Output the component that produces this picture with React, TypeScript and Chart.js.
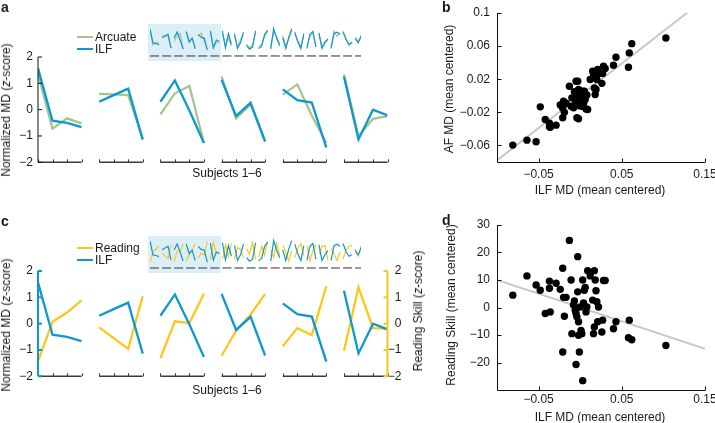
import React, { useEffect, useRef } from "react";
import { Chart, registerables } from "chart.js";
Chart.register(...registerables);

const FONT = "'Liberation Sans', Arial, Helvetica, sans-serif";
const INK = "#1a1a1a";
const ILF_COLOR = "#0e98d0";
const ARC_COLOR = "#a7c58b";
const READ_COLOR = "#ffc617";

// ---------- Panels a / c : six example subjects (z-scores, 4 points each) ----------
const subjectLabels = ["1", "2", "3", "4", "5", "6"];
const zTicks = [-2, -1, 0, 1, 2];
const ilfZ = [
  [1.57, -0.42, -0.5, -0.66],
  [0.3, 0.55, 0.8, -1.14],
  [0.3, 1.11, -0.03, -1.27],
  [1.13, -0.24, 0.26, -1.21],
  [0.77, 0.36, 0.27, -1.44],
  [1.25, -1.13, 0.0, -0.22],
];
const arcZ = [
  [1.35, -0.72, -0.33, -0.52],
  [0.6, 0.58, 0.55, -1.1],
  [-0.18, 0.62, 0.9, -1.27],
  [1.25, -0.33, 0.2, -1.2],
  [0.57, 0.96, -0.22, -1.27],
  [1.33, -1.0, -0.35, -0.25],
];
const readZ = [
  [-1.43, 0.07, 0.42, 0.88],
  [-0.14, -0.55, -0.96, 1.04],
  [-1.31, 0.09, 0.02, 1.14],
  [-1.22, -0.27, 0.35, 1.13],
  [-0.86, -0.17, -0.44, 1.42],
  [-1.03, 1.38, -0.17, -0.2],
];
// thumbnails of further subjects (strip above the panels)
const extraIlfZ = [
  [1.3, -1.1, 0.9, -0.6],
  [0.9, -1.2, -0.4, 1.1],
  [-0.8, -1.3, -1.0, 1.3],
  [-1.2, -0.9, 0.8, 1.4],
  [-1.3, 1.6, 0.2, -0.8],
  [0.3, -1.2, 0.4, 1.6],
  [1.1, -0.3, -1.2, 0.9],
  [-1.2, 0.8, 1.2, -1.0],
  [1.0, -1.2, -0.4, 0.2],
  [-1.2, 0.9, 1.1, 0.8],
  [1.2, 0.0, -0.6, -0.4],
  [0.2, -0.4, 0.6, 0.0],
];
const extraArcZ = [
  [0.9, -0.8, 0.2, -0.9],
  [0.5, -0.9, 0.0, 0.8],
  [-0.6, -1.1, -0.7, 1.0],
  [-1.0, -0.6, 0.5, 1.2],
  [-1.0, 1.2, 0.5, -0.6],
  [0.6, -0.9, 0.1, 1.3],
  [0.8, -0.1, -0.9, 0.6],
  [-0.9, 0.5, 1.0, -0.8],
  [0.7, -0.9, -0.2, 0.0],
  [-1.0, 1.3, 0.5, 1.0],
  [1.0, 0.2, -0.8, -0.2],
  [0.4, -0.2, 0.3, 0.1],
];
const extraReadZ = [
  [-1.0, 1.0, -0.6, 1.2],
  [-1.0, 0.6, 0.4, -0.8],
  [0.5, -0.3, 1.3, -1.0],
  [-0.8, 0.8, -0.5, 1.5],
  [0.3, -0.8, 1.2, -0.5],
  [1.0, 0.0, -1.3, 0.2],
  [-0.8, 0.5, 1.2, -0.5],
  [0.8, -1.2, 0.2, 1.0],
  [-0.3, 0.8, 0.9, -1.2],
  [0.5, -0.3, -1.2, 0.0],
  [-1.0, 0.3, 0.8, 0.9],
  [0.4, -0.6, 0.8, 0.2],
];

// ---------- Panels b / d : all subjects (mean centered) ----------
const ilfMd = [
  -0.081, -0.064, -0.053, -0.048, -0.042, -0.037, -0.037, -0.036, -0.029, -0.024,
  -0.021, -0.021, -0.02, -0.019, -0.017, -0.013, -0.011, -0.01, -0.008, -0.007,
  -0.006, -0.005, -0.004, -0.005, -0.003, -0.003, -0.002, -0.002, -0.001, 0.0,
  0.001, 0.002, 0.003, 0.003, 0.004, 0.005, 0.006, 0.007, 0.008, 0.009,
  0.012, 0.015, 0.016, 0.017, 0.017, 0.018, 0.019, 0.02, 0.021, 0.022,
  0.026, 0.027, 0.028, 0.03, 0.04, 0.043, 0.059, 0.058, 0.062, 0.103,
];
const afMd = [
  -0.0596, -0.0536, -0.0556, -0.0134, -0.0286, -0.0375, -0.033, -0.038, -0.0355, -0.011,
  -0.015, -0.0266, -0.0065, -0.02, -0.009, 0.0116, -0.0126, -0.0025, -0.0146, 0.005,
  -0.004, 0.0176, -0.0266, -0.008, 0.0176, 0.002, -0.0278, 0.0075, -0.012, -0.0005,
  -0.0065, -0.0126, -0.003, 0.0055, -0.009, 0.0055, -0.0045, -0.016, 0.001, -0.0166,
  0.0196, 0.0297, 0.0256, 0.0216, 0.0095, 0.0015, 0.0075, 0.0196, 0.0317, 0.0268,
  0.015, 0.0268, 0.0357, 0.033, 0.0369, 0.0465, 0.0518, 0.0345, 0.063, 0.0698,
];
const readSkill = [
  4.5, 11.5, 8.2, 6.3, -2.2, 9.6, 7.0, -1.6, 8.8, 6.6,
  14.3, -16.2, 3.7, -3.2, 3.7, 24.4, 10, -9.5, 0.9, 2.4,
  -1, -2.2, -3.4, -20.7, 18.5, 5.7, -5.2, -10.1, -16.2, 0.2,
  -8.3, -9.5, -26.6, 10, 1.7, 6.3, 7.3, -1.6, 0.2, 13.4,
  11.5, 2.7, -9.5, -7.1, 13.4, 10, 6.1, 2.1, -5.2, 0.2,
  -8.9, -4.6, 9.8, 9.8, -7.7, -5.2, -4.6, -11, -11.7, -13.8,
];
const ilfTicks = [-0.05, 0.05, 0.15];
const afTicks = [-0.06, -0.02, 0.02, 0.06, 0.1];
const readTicks = [-20, -10, 0, 10, 20, 30];
const fitAf = { slope: 0.78, intercept: 0.0 };
const fitRead = { slope: -100, intercept: 0.0 };

// ---------- layout constants ----------
const SUBJ_STEP = 4.22; // x units between subject sub-plots (3 units wide each)
const THUMB_STEP = 4.023;

const fmt = (v: number) => (v < 0 ? "\u2212" : "") + String(Math.abs(Math.round(v * 1000) / 1000));

function seriesData(rows: number[][], step: number) {
  const out: { x: number; y: number | null }[] = [];
  rows.forEach((r, s) => {
    r.forEach((v, j) => out.push({ x: s * step + j, y: v }));
    out.push({ x: s * step + 3.5, y: null });
  });
  return out;
}

const baseOpts = {
  responsive: false,
  animation: false,
  devicePixelRatio: 1,
  events: [],
  plugins: { legend: { display: false }, tooltip: { enabled: false } },
};

function subjectAxesPlugin(leftColor: string, leftW: number, rightColor: string | null, rightW: number) {
  return {
    id: "subjectAxes",
    afterDraw(chart: any) {
      const { ctx, chartArea: ca, scales } = chart;
      const xs = scales.x;
      const ys = scales.y;
      const yb = ys.getPixelForValue(-2);
      const yt = ys.getPixelForValue(2);
      ctx.save();
      ctx.lineCap = "butt";
      ctx.strokeStyle = "#3a3a3a";
      for (let s = 0; s < subjectLabels.length; s++) {
        const x0 = xs.getPixelForValue(s * SUBJ_STEP);
        const x1 = xs.getPixelForValue(s * SUBJ_STEP + 3);
        ctx.lineWidth = 1.6;
        ctx.beginPath();
        ctx.moveTo(x0, yb);
        ctx.lineTo(x1, yb);
        ctx.stroke();
        ctx.lineWidth = 1;
        for (let j = 0; j < 4; j++) {
          const xp = Math.round(xs.getPixelForValue(s * SUBJ_STEP + j)) + 0.5;
          ctx.beginPath();
          ctx.moveTo(xp, yb);
          ctx.lineTo(xp, yb - 3);
          ctx.stroke();
        }
      }
      ctx.strokeStyle = leftColor;
      ctx.lineWidth = leftW;
      ctx.beginPath();
      ctx.moveTo(ca.left, yt);
      ctx.lineTo(ca.left, yb);
      ctx.stroke();
      for (const v of zTicks) {
        const py = ys.getPixelForValue(v);
        ctx.beginPath();
        ctx.moveTo(ca.left, py);
        ctx.lineTo(ca.left + 4, py);
        ctx.stroke();
      }
      if (rightColor) {
        ctx.strokeStyle = rightColor;
        ctx.lineWidth = rightW;
        ctx.beginPath();
        ctx.moveTo(ca.right, yt);
        ctx.lineTo(ca.right, yb);
        ctx.stroke();
        for (const v of zTicks) {
          const py = ys.getPixelForValue(v);
          ctx.beginPath();
          ctx.moveTo(ca.right, py);
          ctx.lineTo(ca.right - 4, py);
          ctx.stroke();
        }
      }
      ctx.restore();
    },
  };
}

const tickFont = { family: FONT, size: 12 };

function subjectConfig(second: number[][], secondColor: string, withRight: boolean, canvasW: number, canvasH: number) {
  const datasets = [
    { data: seriesData(ilfZ, SUBJ_STEP), borderColor: ILF_COLOR, order: 0 },
    { data: seriesData(second, SUBJ_STEP), borderColor: secondColor, order: 1 },
  ].map((d) => ({ ...d, showLine: true, pointRadius: 0, borderWidth: 2.3, spanGaps: false, fill: false, tension: 0 }));
  const scales: any = {
    x: { type: "linear", display: false, min: 0, max: 5 * SUBJ_STEP + 3 },
    y: {
      type: "linear",
      min: -2,
      max: 2,
      ticks: { stepSize: 1, padding: 5, color: INK, font: tickFont, callback: (v: number) => fmt(v) },
      grid: { display: false, drawTicks: false },
      border: { display: false },
      afterFit(s: any) {
        s.width = 38;
        s.paddingTop = 0;
        s.paddingBottom = 0;
      },
    },
  };
  if (withRight) {
    scales.y2 = {
      type: "linear",
      position: "right",
      min: -2,
      max: 2,
      ticks: { stepSize: 1, padding: 2, crossAlign: "far", color: INK, font: tickFont, callback: (v: number) => fmt(v) },
      grid: { display: false, drawTicks: false },
      border: { display: false },
      afterFit(s: any) {
        s.width = 14;
        s.paddingTop = 0;
        s.paddingBottom = 0;
      },
    };
  }
  return {
    type: "scatter",
    data: { datasets },
    options: {
      ...baseOpts,
      layout: { padding: { left: 0, top: 57, right: canvasW - 387.5 - (withRight ? 14 : 0), bottom: canvasH - 162.3 } },
      scales,
    },
    plugins: [subjectAxesPlugin(withRight ? ILF_COLOR : "#111", withRight ? 2 : 1, withRight ? READ_COLOR : null, 2)],
  };
}

const THUMB_ZMAX = 2.25;
const THUMB_ZMIN = -2.96;
const THUMB_DASH_Z = -2.25;

function thumbConfig(second: number[][], secondColor: string) {
  const ilfRows = [...ilfZ, ...extraIlfZ];
  const secRows = [...second];
  const n = ilfRows.length;
  const datasets = [
    { data: seriesData(ilfRows, THUMB_STEP), borderColor: ILF_COLOR, order: 0 },
    { data: seriesData(secRows, THUMB_STEP), borderColor: secondColor, order: 1 },
  ].map((d) => ({ ...d, showLine: true, pointRadius: 0, borderWidth: 1.2, spanGaps: false, fill: false, tension: 0 }));
  const xMax = (n - 1) * THUMB_STEP + 3;
  return {
    type: "scatter",
    data: { datasets },
    options: {
      ...baseOpts,
      layout: { padding: { left: 2, top: 0, right: 220 - 2 - xMax * 3, bottom: 0 } },
      scales: {
        x: { type: "linear", display: false, min: 0, max: xMax },
        y: { type: "linear", display: false, min: THUMB_ZMIN, max: THUMB_ZMAX },
      },
    },
    plugins: [
      {
        id: "thumbDash",
        afterDraw(chart: any) {
          const { ctx, scales } = chart;
          const yd = scales.y.getPixelForValue(THUMB_DASH_Z);
          ctx.save();
          ctx.strokeStyle = "#5e5e5e";
          ctx.lineWidth = 1.3;
          for (let k = 0; k < n; k++) {
            ctx.beginPath();
            ctx.moveTo(scales.x.getPixelForValue(k * THUMB_STEP), yd);
            ctx.lineTo(scales.x.getPixelForValue(k * THUMB_STEP + 3), yd);
            ctx.stroke();
          }
          ctx.restore();
        },
      },
    ],
  };
}

const boxAxesPlugin = {
  id: "boxAxes",
  afterDraw(chart: any) {
    const { ctx, chartArea: ca, scales } = chart;
    ctx.save();
    ctx.strokeStyle = "#111";
    ctx.lineWidth = 1;
    const lx = Math.round(ca.left) + 0.5;
    const by = Math.round(ca.bottom) + 0.5;
    ctx.beginPath();
    ctx.moveTo(lx, ca.top);
    ctx.lineTo(lx, by);
    ctx.lineTo(ca.right, by);
    ctx.stroke();
    scales.y.ticks.forEach((t: any) => {
      const py = Math.round(scales.y.getPixelForValue(t.value)) + 0.5;
      ctx.beginPath();
      ctx.moveTo(lx, py);
      ctx.lineTo(lx + 4, py);
      ctx.stroke();
    });
    scales.x.ticks.forEach((t: any) => {
      const px = Math.round(scales.x.getPixelForValue(t.value)) + 0.5;
      ctx.beginPath();
      ctx.moveTo(px, by);
      ctx.lineTo(px, by - 4);
      ctx.stroke();
    });
    ctx.restore();
  },
};

function scatterConfig(
  yVals: number[],
  yMin: number,
  yMax: number,
  yTickVals: number[],
  fit: { slope: number; intercept: number },
  canvasH: number,
  areaTop: number,
  areaBottom: number,
  xLabelPad: number
) {
  const xMin = -0.1;
  const xMax = 0.15;
  return {
    type: "scatter",
    data: {
      datasets: [
        {
          data: ilfMd.map((x, i) => ({ x, y: yVals[i] })),
          backgroundColor: "#000",
          borderWidth: 0,
          pointRadius: 3.7,
          order: 0,
        },
        {
          data: [
            { x: xMin, y: fit.slope * xMin + fit.intercept },
            { x: xMax, y: fit.slope * xMax + fit.intercept },
          ],
          showLine: true,
          borderColor: "#c9c9c9",
          borderWidth: 2,
          pointRadius: 0,
          order: 1,
        },
      ],
    },
    options: {
      ...baseOpts,
      layout: { padding: { left: 0, top: areaTop, right: 10, bottom: 0 } },
      scales: {
        x: {
          type: "linear",
          min: xMin,
          max: xMax,
          afterBuildTicks(s: any) {
            s.ticks = ilfTicks.map((v) => ({ value: v }));
          },
          ticks: { autoSkip: false, maxRotation: 0, padding: xLabelPad, color: INK, font: tickFont, callback: (v: number) => fmt(v) },
          grid: { display: false, drawTicks: false },
          border: { display: false },
          afterFit(s: any) {
            s.height = canvasH - areaBottom;
            s.paddingLeft = 0;
            s.paddingRight = 0;
          },
        },
        y: {
          type: "linear",
          min: yMin,
          max: yMax,
          afterBuildTicks(s: any) {
            s.ticks = yTickVals.map((v) => ({ value: v }));
          },
          ticks: { autoSkip: false, padding: 7, color: INK, font: tickFont, callback: (v: number) => fmt(v) },
          grid: { display: false, drawTicks: false },
          border: { display: false },
          afterFit(s: any) {
            s.width = 117;
            s.paddingTop = 0;
            s.paddingBottom = 0;
          },
        },
      },
    },
    plugins: [boxAxesPlugin],
  };
}

function ChartCanvas({ left, top, width, height, make }: { left: number; top: number; width: number; height: number; make: () => any }) {
  const ref = useRef<HTMLCanvasElement>(null);
  useEffect(() => {
    const chart = new Chart(ref.current as HTMLCanvasElement, make());
    return () => chart.destroy();
  }, []);
  return (
    <canvas
      ref={ref}
      width={width}
      height={height}
      style={{ position: "absolute", left, top, width, height, display: "block" }}
    />
  );
}

function Text({ x, y, children, anchor = "center", rotate = false, size = 12, bold = false }: any) {
  const tx = anchor === "center" ? "-50%" : anchor === "end" ? "-100%" : "0";
  return (
    <div
      style={{
        position: "absolute",
        left: x,
        top: y,
        transform: rotate ? "translate(-50%,-50%) rotate(-90deg)" : `translate(${tx},-50%)`,
        whiteSpace: "nowrap",
        fontSize: size,
        lineHeight: 1,
        fontWeight: bold ? 700 : 400,
      }}
    >
      {children}
    </div>
  );
}

function LegendLine({ x, y, color }: { x: number; y: number; color: string }) {
  return <div style={{ position: "absolute", left: x, top: y - 1.25, width: 16, height: 2.5, background: color }} />;
}

function Thumbs({ top, second, color }: { top: number; second: number[][]; color: string }) {
  return (
    <div style={{ position: "absolute", left: 148, top, width: 213, height: 37, overflow: "hidden" }}>
      <div style={{ position: "absolute", left: 0, top: 0, width: 73, height: 37, background: "#dceef7" }} />
      <ChartCanvas left={0} top={0} width={220} height={37} make={() => thumbConfig(second, color)} />
    </div>
  );
}

export default function App() {
  return (
    <div
      style={{
        position: "absolute",
        left: 0,
        top: 0,
        width: 715,
        height: 423,
        overflow: "hidden",
        background: "#fff",
        fontFamily: FONT,
        color: INK,
      }}
    >
      {/* panel a */}
      <ChartCanvas left={0} top={0} width={400} height={175} make={() => subjectConfig(arcZ, ARC_COLOR, false, 400, 175)} />
      <Thumbs top={24} second={[...arcZ, ...extraArcZ]} color={ARC_COLOR} />
      <Text x={1} y={7} anchor="start" size={14} bold>a</Text>
      <LegendLine x={77} y={37} color={ARC_COLOR} />
      <LegendLine x={77} y={49} color={ILF_COLOR} />
      <Text x={95} y={37} anchor="start">Arcuate</Text>
      <Text x={95} y={49} anchor="start">ILF</Text>
      <Text x={6} y={110} rotate>
        Normalized MD (<i>z</i>-score)
      </Text>
      <Text x={227} y={173}>Subjects 1–6</Text>

      {/* panel c */}
      <ChartCanvas left={0} top={214} width={415} height={175} make={() => subjectConfig(readZ, READ_COLOR, true, 415, 175)} />
      <Thumbs top={236} second={[...readZ, ...extraReadZ]} color={READ_COLOR} />
      <Text x={1} y={221} anchor="start" size={14} bold>c</Text>
      <LegendLine x={77} y={248} color={READ_COLOR} />
      <LegendLine x={77} y={260} color={ILF_COLOR} />
      <Text x={95} y={248} anchor="start">Reading</Text>
      <Text x={95} y={260} anchor="start">ILF</Text>
      <Text x={6} y={325} rotate>
        Normalized MD (<i>z</i>-score)
      </Text>
      <Text x={418} y={311} rotate>
        Reading Skill (<i>z</i>-score)
      </Text>
      <Text x={227} y={390}>Subjects 1–6</Text>

      {/* panel b */}
      <ChartCanvas
        left={380}
        top={0}
        width={335}
        height={205}
        make={() => scatterConfig(afMd, -0.08, 0.1, afTicks, fitAf, 205, 13, 162, 5)}
      />
      <Text x={442} y={7} anchor="start" size={14} bold>b</Text>
      <Text x={449} y={89} rotate>AF MD (mean centered)</Text>
      <Text x={600} y={190}>ILF MD (mean centered)</Text>

      {/* panel d */}
      <ChartCanvas
        left={380}
        top={210}
        width={335}
        height={213}
        make={() => scatterConfig(readSkill, -30, 30, readTicks, fitRead, 213, 15, 180, 2)}
      />
      <Text x={442} y={220} anchor="start" size={14} bold>d</Text>
      <Text x={451} y={305} rotate>Reading Skill (mean centered)</Text>
      <Text x={600} y={417}>ILF MD (mean centered)</Text>
    </div>
  );
}
